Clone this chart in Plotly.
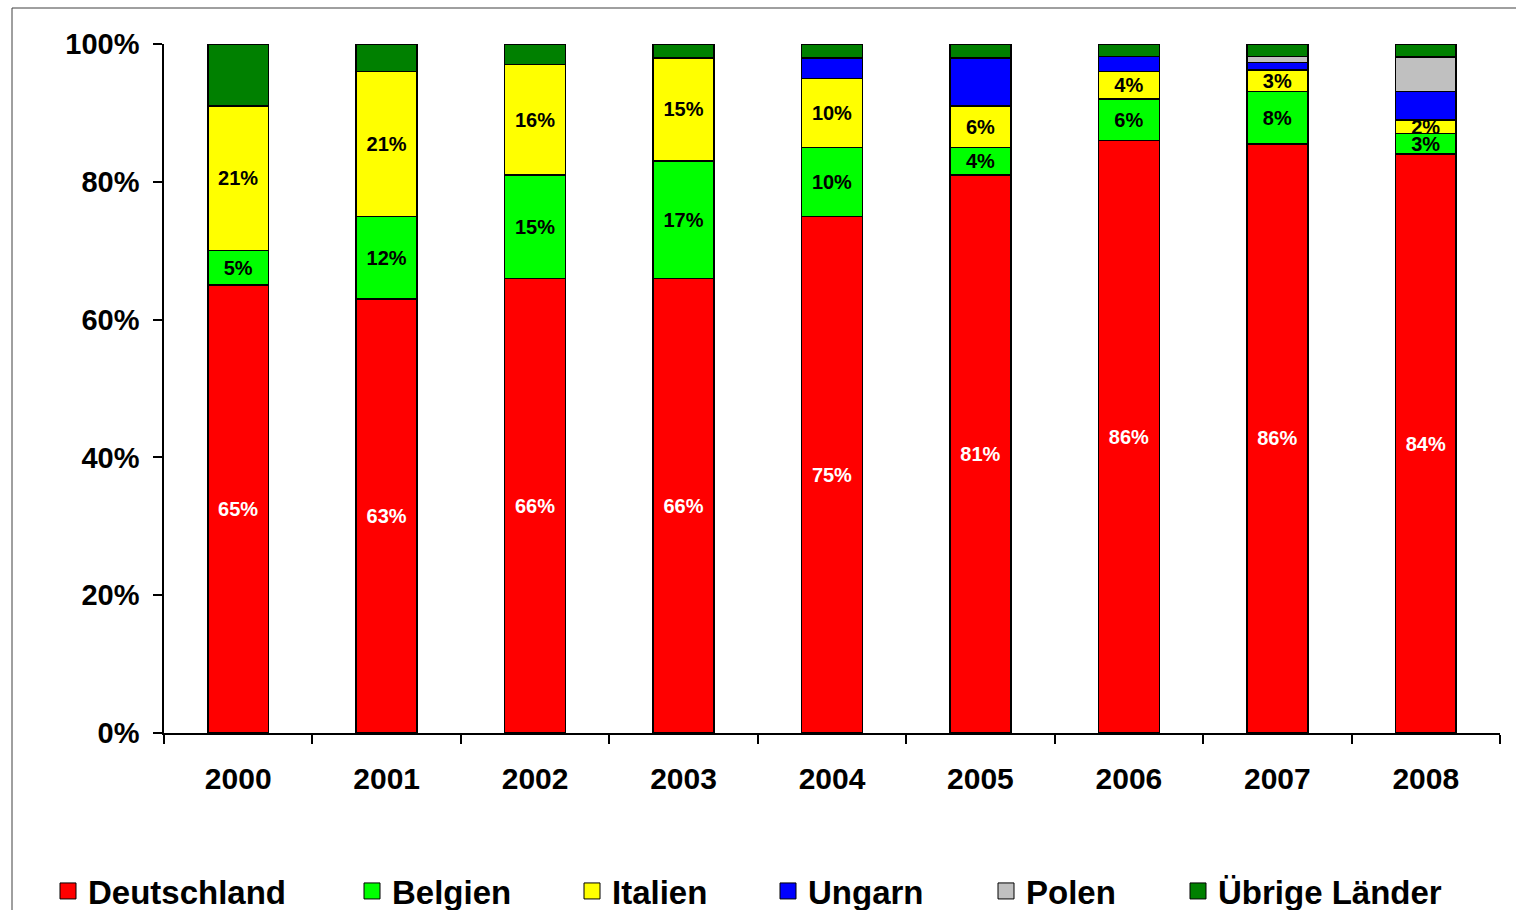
import plotly.graph_objects as go

# Shares of export destinations per year (percent of total)
years = ["2000", "2001", "2002", "2003", "2004", "2005", "2006", "2007", "2008"]
deutschland = [65, 63, 66, 66, 75, 81, 86, 85.5, 84]
belgien = [5, 12, 15, 17, 10, 4, 6, 7.6, 3]
italien = [21, 21, 16, 15, 10, 6, 4, 3.1, 2]
ungarn = [None, None, None, None, 3, 7, 2.2, 1.1, 4.1]
polen = [None, None, None, None, None, None, None, 0.9, 5]
uebrige = [9, 4, 3, 2, 2, 2, 1.8, 1.8, 1.9]

series = [
    ("Deutschland", deutschland, "#FF0000", True, "white"),
    ("Belgien", belgien, "#00FF00", True, "black"),
    ("Italien", italien, "#FFFF00", True, "black"),
    ("Ungarn", ungarn, "#0000FF", False, "black"),
    ("Polen", polen, "#C0C0C0", False, "black"),
    ("Übrige Länder", uebrige, "#008000", False, "black"),
]

W, H = 1516, 910
ML, MR, MT, MB = 164, 16, 44, 177
PW, PH = W - ML - MR, H - MT - MB

def px_x(p):
    return (p - ML) / PW

def px_y(p):
    return (H - MB - p) / PH

FONT = "Liberation Sans, Arial, sans-serif"

# left edge of each legend entry, in pixels
legend_left = [48, 352, 572, 768, 986, 1178]

fig = go.Figure()
for i, (name, vals, color, labelled, tcol) in enumerate(series):
    text = None
    if labelled:
        text = [f"{round(v)}%" if v is not None else "" for v in vals]
    fig.add_trace(go.Bar(
        x=years, y=vals, name=name, showlegend=False,
        marker=dict(color=color, line=dict(color="black", width=1.5)),
        text=text, textposition="inside" if labelled else "none",
        insidetextanchor="middle", textangle=0, constraintext="none",
        textfont=dict(family=FONT, size=20, color=tcol, weight="bold"),
        hoverinfo="x+y+name",
    ))

# legend keys: square swatches, one legend box per entry
for i, (name, vals, color, labelled, tcol) in enumerate(series):
    fig.add_trace(go.Scatter(
        x=[None], y=[None], mode="markers", name=name, showlegend=True,
        marker=dict(symbol="square", size=16, color=color,
                    line=dict(color="black", width=1)),
        hoverinfo="skip",
        legend="legend" if i == 0 else f"legend{i + 1}",
    ))

legends = {}
for i, left in enumerate(legend_left):
    key = "legend" if i == 0 else f"legend{i + 1}"
    legends[key] = dict(
        x=px_x(left), xanchor="left", y=px_y(863), yanchor="top",
        orientation="h", bgcolor="rgba(0,0,0,0)", itemsizing="trace",
        font=dict(family=FONT, size=33, color="black", weight="bold"),
    )

fig.update_layout(
    width=W, height=H,
    margin=dict(l=ML, r=MR, t=MT, b=MB, autoexpand=False),
    paper_bgcolor="white", plot_bgcolor="white",
    barmode="stack", bargap=0.59,
    showlegend=True,
    **legends,
    xaxis=dict(
        type="category", tickson="boundaries", ticks="outside", ticklen=9,
        tickwidth=1.5, tickcolor="black", showline=True, linecolor="black",
        linewidth=1.5, showgrid=False, zeroline=False, ticklabelstandoff=18,
        tickfont=dict(family=FONT, size=30, color="black", weight="bold"),
    ),
    yaxis=dict(
        range=[0, 100], dtick=20, ticksuffix="%", ticks="outside", ticklen=9,
        tickwidth=1.5, tickcolor="black", showline=True, linecolor="black",
        linewidth=1.5, showgrid=False, zeroline=False, ticklabelstandoff=8,
        tickfont=dict(family=FONT, size=29, color="black", weight="bold"),
    ),
    shapes=[
        dict(type="line", xref="paper", yref="paper",
             x0=px_x(12), x1=px_x(12), y0=px_y(8), y1=px_y(H + 5),
             line=dict(color="#404040", width=1)),
        dict(type="line", xref="paper", yref="paper",
             x0=px_x(12), x1=px_x(W + 5), y0=px_y(8), y1=px_y(8),
             line=dict(color="#404040", width=1)),
    ],
)

fig.write_html("out.html")
